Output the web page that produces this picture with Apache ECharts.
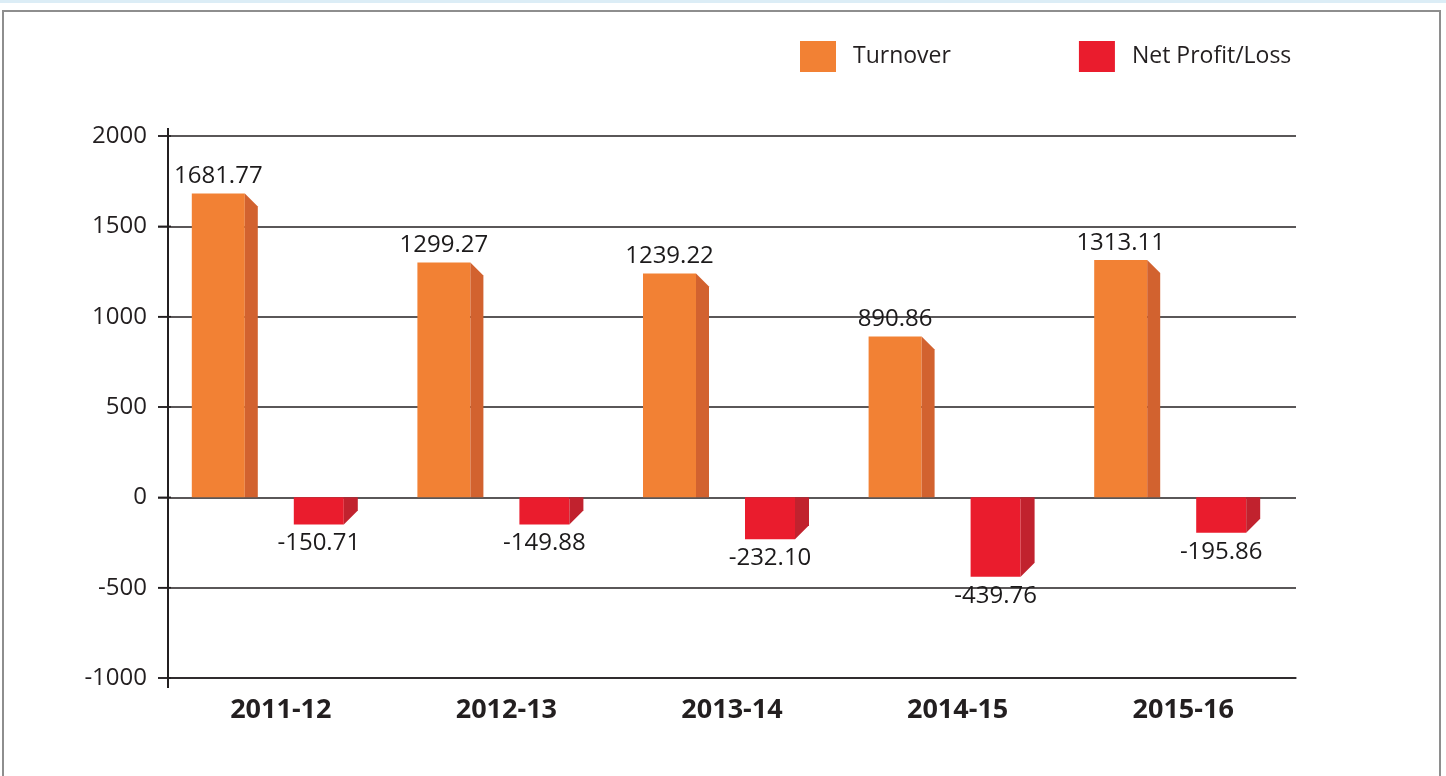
<!DOCTYPE html>
<html>
<head>
<meta charset="utf-8">
<script src="https://cdn.jsdelivr.net/npm/echarts@6/dist/echarts.min.js"></script>
<style>
html,body{margin:0;padding:0;background:#ffffff;}
#chart{width:1446px;height:776px;}
</style>
</head>
<body>
<div id="chart"></div>
<script>
const categories = ['2011-12', '2012-13', '2013-14', '2014-15', '2015-16'];
const turnover = [1681.77, 1299.27, 1239.22, 890.86, 1313.11];
const netProfit = [-150.71, -149.88, -232.10, -439.76, -195.86];
const yMin = -1000, yMax = 2000, yStep = 500;

const FONT = '"Open Sans", "Noto Sans", sans-serif';
const TEXT = '#231f20';

function makeRender(offset, front, side, faceColor, sideColor) {
  return function (params, api) {
    const cat = api.value(0);
    const val = api.value(1);
    const p0 = api.coord([cat, 0]);
    const p1 = api.coord([cat, val]);
    const x = p0[0] + offset;
    const yTop = Math.min(p0[1], p1[1]);
    const yBot = Math.max(p0[1], p1[1]);
    const pts = val >= 0
      ? [[x + front, yTop], [x + front + side, yTop + side], [x + front + side, yBot], [x + front, yBot]]
      : [[x + front, yTop], [x + front + side, yTop], [x + front + side, yBot - side], [x + front, yBot]];
    return {
      type: 'group',
      children: [
        { type: 'rect', shape: { x: x, y: yTop, width: front, height: yBot - yTop }, style: { fill: faceColor } },
        { type: 'polygon', shape: { points: pts }, style: { fill: sideColor } },
        {
          type: 'text',
          style: {
            text: val.toFixed(2),
            x: x + front / 2,
            y: val >= 0 ? yTop - 5 : yBot + 7,
            align: 'center',
            verticalAlign: val >= 0 ? 'bottom' : 'top',
            fill: '#1c1a1b',
            font: '24px ' + FONT
          }
        }
      ]
    };
  };
}

const baseGraphics = [
  { type: 'rect', silent: true, shape: { x: 0, y: 0, width: 1446, height: 3 }, style: { fill: '#dcedf6' } },
  { type: 'rect', silent: true, shape: { x: 3, y: 11, width: 1437, height: 770 }, style: { fill: 'none', stroke: '#8e8e8e', lineWidth: 2 } }
];

const chart = echarts.init(document.getElementById('chart'), null, { renderer: 'canvas' });
chart.setOption({
  backgroundColor: '#ffffff',
  animation: false,
  graphic: baseGraphics,
  legend: {
    left: 795,
    top: 36,
    itemWidth: 36,
    itemHeight: 31,
    itemGap: 128,
    icon: 'rect',
    data: ['Turnover', 'Net Profit/Loss'],
    textStyle: { fontSize: 23, color: TEXT, fontFamily: FONT, padding: [0, 0, 0, 12] }
  },
  grid: { left: 168, right: 150, top: 136, bottom: 98 },
  xAxis: {
    type: 'category',
    data: categories,
    axisLine: { onZero: false, lineStyle: { color: TEXT, width: 1.5 } },
    axisTick: { show: false },
    axisLabel: { fontSize: 27, fontWeight: 'bold', color: TEXT, fontFamily: FONT, margin: 19 }
  },
  yAxis: {
    type: 'value',
    min: yMin,
    max: yMax,
    interval: yStep,
    axisLine: { show: true, lineStyle: { color: TEXT, width: 2 } },
    axisTick: { show: true, inside: false, length: 10, lineStyle: { color: TEXT, width: 1.5 } },
    splitLine: { show: true, lineStyle: { color: TEXT, width: 1.5 } },
    axisLabel: { fontSize: 24, color: TEXT, fontFamily: FONT, margin: 21, formatter: v => String(v) }
  },
  series: [
    {
      name: 'Turnover',
      type: 'custom',
      itemStyle: { color: '#f28134' },
      renderItem: makeRender(-89, 53, 13, '#f28134', '#d2622f'),
      data: turnover.map((v, i) => [i, v]),
      z: 3
    },
    {
      name: 'Net Profit/Loss',
      type: 'custom',
      itemStyle: { color: '#ea1c2d' },
      renderItem: makeRender(13, 50, 14, '#ea1c2d', '#c1222e'),
      data: netProfit.map((v, i) => [i, v]),
      z: 3
    }
  ]
});

// y-axis tick marks and extended axis line, placed through the axis scale
const extra = baseGraphics.slice();
const axisX = chart.convertToPixel({ xAxisIndex: 0 }, 0) - (chart.convertToPixel({ xAxisIndex: 0 }, 1) - chart.convertToPixel({ xAxisIndex: 0 }, 0)) / 2;
const yTopPx = chart.convertToPixel({ yAxisIndex: 0 }, yMax);
const yBotPx = chart.convertToPixel({ yAxisIndex: 0 }, yMin);
extra.push({ type: 'line', silent: true, shape: { x1: axisX, y1: yTopPx - 8, x2: axisX, y2: yBotPx + 10 }, style: { stroke: TEXT, lineWidth: 2 } });
for (let v = yMin; v <= yMax; v += yStep) {
  const py = chart.convertToPixel({ yAxisIndex: 0 }, v);
  extra.push({ type: 'line', silent: true, shape: { x1: axisX - 10, y1: py, x2: axisX + 3, y2: py }, style: { stroke: TEXT, lineWidth: 1.5 } });
}
chart.setOption({ graphic: extra });
</script>
</body>
</html>
